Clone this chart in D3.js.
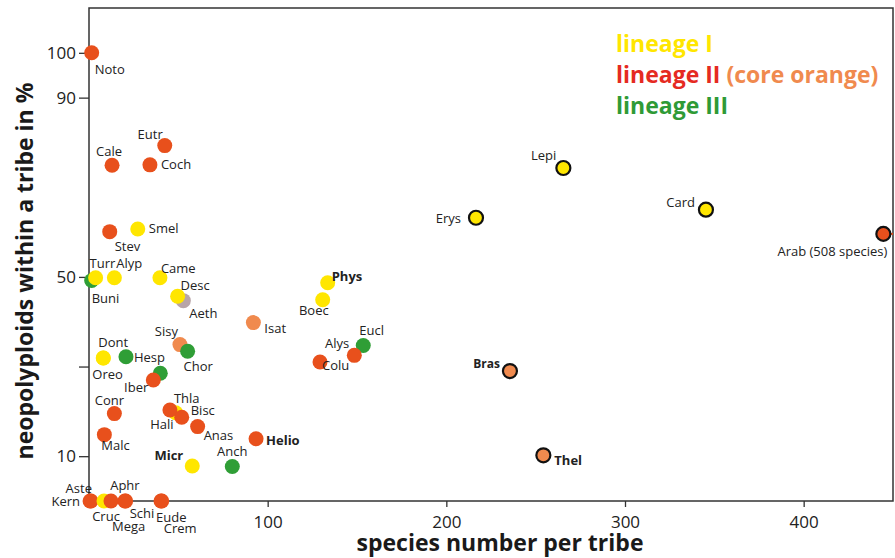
<!DOCTYPE html>
<html>
<head>
<meta charset="utf-8">
<script src="https://cdn.jsdelivr.net/npm/d3@7"></script>
<style>
  body { margin: 0; background: #fff; }
  svg { display: block; font-family: "Open Sans", sans-serif; }
</style>
</head>
<body>
<div id="chart"></div>
<script>
// tribes
const tribes  = ["Noto","Eutr","Cale","Coch","Stev","Smel","Buni","Turr","Alyp","Came",
                 "Aeth","Desc","Isat","Sisy","Chor","Dont","Oreo","Hesp","","Iber",
                 "Conr","Malc","Hali","Thla","Bisc","Anas","Helio","Micr","Anch",
                 "Kern","Aste","Cruc","Mega","Aphr","Schi","Eude","Crem",
                 "Phys","Boec","Eucl","Alys","Colu","Lepi","Erys","Card","Arab","Bras","Thel"];
const species = [1.5,42.4,12.9,34.1,11.6,27.3,1.5,3.7,14.2,39.7,
                 52.8,49.6,92.0,50.9,55.2,8.0,8.0,20.7,39.9,36.0,
                 14.2,8.6,48.5,45.3,51.9,60.8,93.5,57.8,80.2,
                 0.6,1.1,8.4,12.3,20.1,20.5,40.3,40.7,
                 133.6,130.8,153.5,148.5,129.3,265.5,216.6,345.3,444.6,235.6,254.3];
const neoPct  = [100,79.3,74.9,75.0,60.1,60.7,49.2,49.8,49.8,49.8,
                 44.7,45.7,39.8,34.9,33.4,31.9,31.9,32.2,28.5,27.0,
                 19.5,14.8,19.7,20.3,18.7,16.6,13.9,7.8,7.7,
                 0,0,0,0,0,0,0,0,
                 48.7,44.9,34.7,32.5,31.0,74.3,63.2,65.0,59.6,29.0,10.2];
const lineage = ["II","II","II","II","II","I","III","I","I","I",
                 "?","I","core","core","III","I","I","III","III","II",
                 "II","II","I","II","II","II","II","I","III",
                 "II","II","I","II","II","II","II","II",
                 "I","I","III","II","II","I","I","I","II","core","core"];
const bigTribes = ["Lepi","Erys","Card","Arab","Bras","Thel"];
const labelNotes = {Arab: "Arab (508 species)"};

const xTicks = [100, 200, 300, 400];
const yTicks = [10, 30, 50, 90, 100];
const yTickLabels = ["10", "", "50", "90", "100"];

const legendRows = [
  [{t: "lineage I", c: "I"}],
  [{t: "lineage II", c: "II"}, {t: " (core orange)", c: "core"}],
  [{t: "lineage III", c: "III"}]
];

// ---- styling / layout ----
const fill = {"I": "#ffe600", "II": "#e8501c", "III": "#2f9e36", "core": "#f08a4e", "?": "#b8a5a8"};
const legendFill = {"I": "#ffe600", "II": "#e52a22", "III": "#2f9a36", "core": "#f08a4e"};
const boldLabels = ["Phys","Helio","Micr","Bras","Thel"];
// label offset from the point centre: [dx, dy(baseline), anchor]
const place = {
  Noto:[3,21,"start"], Eutr:[-2,-7,"end"], Cale:[-3,-9,"middle"], Coch:[11,4,"start"],
  Stev:[5,19,"start"], Smel:[11,4,"start"], Turr:[-6,-10,"start"], Alyp:[2,-10,"start"],
  Buni:[0,23,"start"], Came:[1,-5,"start"], Desc:[3,-6,"start"], Aeth:[6,17,"start"],
  Isat:[11,10,"start"], Sisy:[-2,-9,"end"], Chor:[-4,20,"start"], Dont:[-5,-11,"start"],
  Oreo:[-11,21,"start"], Hesp:[8,5,"start"], Iber:[-5,12,"end"], Conr:[-5,-9,"middle"],
  Malc:[-3,15,"start"], Thla:[4,-7,"start"], Hali:[-2,16,"end"], Bisc:[9,-2,"start"],
  Anas:[6,13,"start"], Helio:[10,6,"start"], Micr:[-9,-6,"end"], Anch:[0,-10,"middle"],
  Aste:[1,-8,"end"], Kern:[-10,5,"end"], Cruc:[2,20,"middle"], Mega:[1,30,"start"],
  Aphr:[0,-11,"middle"], Schi:[4,17,"start"], Eude:[-5,21,"start"], Crem:[2,32,"start"],
  Phys:[4,-2,"start"], Boec:[6,15,"end"], Eucl:[-4,-10,"start"], Alys:[-5,-7,"end"],
  Colu:[2,8,"start"], Lepi:[-7,-8,"end"], Erys:[-15,5,"end"], Card:[-11,-3,"end"],
  Arab:[4,22,"end"], Bras:[-10,-3,"end"], Thel:[11,10,"start"]
};

const width = 895, height = 558;
const plot = {left: 89, right: 893, top: 8, bottom: 501};

const svg = d3.select("#chart").append("svg")
  .attr("width", width)
  .attr("height", height);

const x = d3.scaleLinear().domain([0, 450]).range([plot.left, plot.right]);
const y = d3.scaleLinear().domain([0, 110]).range([plot.bottom, plot.top]);

const data = tribes.map((t, i) => ({name: t, sp: species[i], pct: neoPct[i], lin: lineage[i]}));

// frame
svg.append("rect")
  .attr("x", plot.left).attr("y", plot.top)
  .attr("width", plot.right - plot.left).attr("height", plot.bottom - plot.top)
  .attr("fill", "none").attr("stroke", "#333").attr("stroke-width", 1.5);

// axes
const xAxis = svg.append("g")
  .attr("transform", `translate(0,${plot.bottom})`)
  .call(d3.axisBottom(x).tickValues(xTicks).tickSize(6).tickPadding(9));
const yAxis = svg.append("g")
  .attr("transform", `translate(${plot.left},0)`)
  .call(d3.axisLeft(y).tickValues(yTicks).tickSize(10).tickPadding(3)
    .tickFormat((d, i) => yTickLabels[i]));
[xAxis, yAxis].forEach(g => {
  g.select(".domain").remove();
  g.selectAll("line").attr("stroke", "#333").attr("stroke-width", 1.3);
  g.selectAll("text").attr("font-size", 17).attr("fill", "#222")
    .attr("font-family", "Open Sans, sans-serif");
});

// red tail to the right of Arab
const arab = data.find(d => d.name === "Arab");
svg.append("line")
  .attr("x1", x(arab.sp)).attr("x2", plot.right)
  .attr("y1", y(arab.pct)).attr("y2", y(arab.pct))
  .attr("stroke", fill.II).attr("stroke-width", 2);

// points
svg.append("g").selectAll("circle")
  .data(data)
  .join("circle")
  .attr("cx", d => x(d.sp))
  .attr("cy", d => y(d.pct))
  .attr("r", d => bigTribes.includes(d.name) ? 7 : 7.5)
  .attr("fill", d => fill[d.lin])
  .attr("stroke", d => bigTribes.includes(d.name) ? "#111" : "none")
  .attr("stroke-width", 2.2);

// point labels
svg.append("g").selectAll("text")
  .data(data.filter(d => d.name !== ""))
  .join("text")
  .attr("x", d => x(d.sp) + place[d.name][0])
  .attr("y", d => y(d.pct) + place[d.name][1])
  .attr("text-anchor", d => place[d.name][2])
  .attr("font-size", d => d.name === "Bras" ? 12 : 13)
  .attr("font-weight", d => boldLabels.includes(d.name) ? "bold" : "normal")
  .attr("fill", "#222")
  .text(d => labelNotes[d.name] || d.name);

// axis titles
svg.append("text")
  .attr("x", 500).attr("y", 551)
  .attr("text-anchor", "middle")
  .attr("font-size", 23).attr("font-weight", "bold").attr("fill", "#1a1a1a")
  .text("species number per tribe");
svg.append("text")
  .attr("transform", "translate(33,271) rotate(-90)")
  .attr("text-anchor", "middle")
  .attr("font-size", 23).attr("font-weight", "bold").attr("fill", "#1a1a1a")
  .text("neopolyploids within a tribe in %");

// legend
const legend = svg.append("g");
legendRows.forEach((row, i) => {
  const t = legend.append("text")
    .attr("x", 616).attr("y", 52 + i * 31)
    .attr("font-size", 23).attr("font-weight", "bold");
  row.forEach(p => t.append("tspan").attr("fill", legendFill[p.c]).text(p.t));
});
</script>
</body>
</html>
